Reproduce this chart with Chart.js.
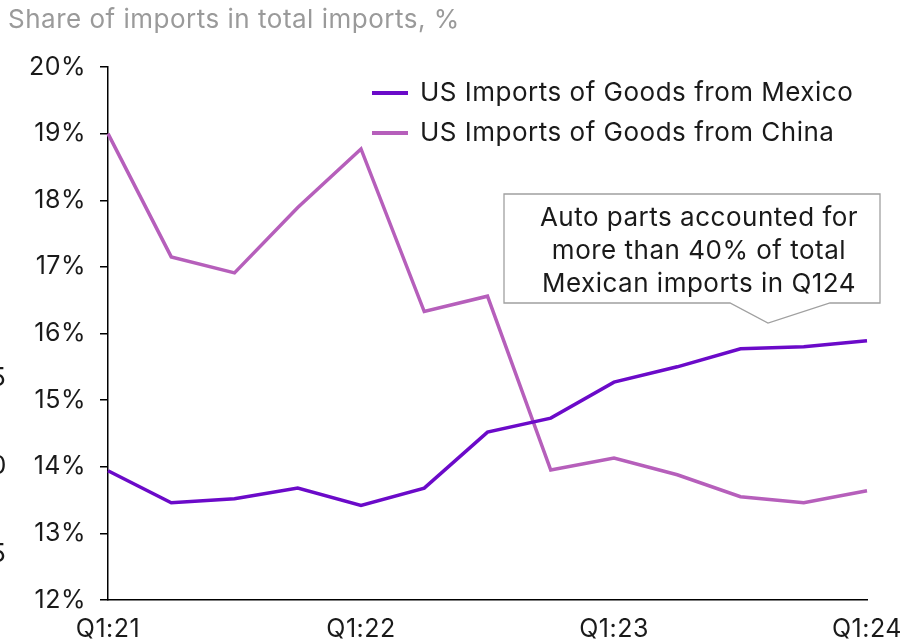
<!DOCTYPE html>
<html>
<head>
<meta charset="utf-8">
<script src="https://cdn.jsdelivr.net/npm/chart.js@4.4.1/dist/chart.umd.min.js"></script>
<style>
    html, body { margin: 0; padding: 0; background: #fff; }
    #wrap { width: 907px; height: 639px; position: relative; }
</style>
</head>
<body>
<div id="wrap"><canvas id="importsChart" width="907" height="639"></canvas></div>
<script>
// Quarters Q1:21 .. Q1:24
const QUARTERS = ['Q1:21', 'Q2:21', 'Q3:21', 'Q4:21', 'Q1:22', 'Q2:22', 'Q3:22', 'Q4:22',
                  'Q1:23', 'Q2:23', 'Q3:23', 'Q4:23', 'Q1:24'];
const MEXICO = [13.94, 13.46, 13.52, 13.68, 13.42, 13.68, 14.52, 14.73, 15.27, 15.50, 15.77, 15.80, 15.89];
const CHINA = [19.00, 17.15, 16.91, 17.89, 18.77, 16.33, 16.56, 13.95, 14.13, 13.88, 13.55, 13.46, 13.64];
const SERIES_NAMES = ['US Imports of Goods from Mexico', 'US Imports of Goods from China'];
const NOTE_LINES = ['Auto parts accounted for', 'more than 40% of total', 'Mexican imports in Q124'];

const COLORS = {
    mexico: '#6B0AC9',
    china: '#B65FBB',
    text: '#1a1a1a',
    title: '#9a9a9a',
    box: '#a0a0a0'
};
const FONT = 'Inter, Roboto, sans-serif';

// the original font runs a bit wider than Inter
const spacing = {
    id: 'spacing',
    beforeDraw(chart) {
        chart.ctx.letterSpacing = '0.5px';
    }
};

// title, legend, callout box and the clipped numbers of the neighbouring chart
const decorations = {
    id: 'decorations',
    afterDraw(chart) {
        const ctx = chart.ctx;
        ctx.save();
        ctx.letterSpacing = '0.5px';

        ctx.fillStyle = COLORS.title;
        ctx.font = '26px ' + FONT;
        ctx.textBaseline = 'middle';
        ctx.textAlign = 'left';
        ctx.fillText('Share of imports in total imports, %', 8, 20);

        // cut-off labels at the left edge
        ctx.fillStyle = COLORS.text;
        ['5', '0', '5'].forEach((t, i) => ctx.fillText(t, -10, 378 + i * 88));

        // legend
        const legendY = [93, 133];
        [COLORS.mexico, COLORS.china].forEach((c, i) => {
            ctx.strokeStyle = c;
            ctx.lineWidth = 4;
            ctx.beginPath();
            ctx.moveTo(372, legendY[i]);
            ctx.lineTo(408, legendY[i]);
            ctx.stroke();
            ctx.fillStyle = COLORS.text;
            ctx.fillText(SERIES_NAMES[i], 420, legendY[i]);
        });

        // callout
        ctx.strokeStyle = COLORS.box;
        ctx.lineWidth = 1.3;
        ctx.fillStyle = '#fff';
        ctx.beginPath();
        ctx.moveTo(504, 194);
        ctx.lineTo(880, 194);
        ctx.lineTo(880, 303);
        ctx.lineTo(830, 303);
        ctx.lineTo(768, 323);
        ctx.lineTo(730, 303);
        ctx.lineTo(504, 303);
        ctx.closePath();
        ctx.fill();
        ctx.stroke();

        ctx.fillStyle = COLORS.text;
        ctx.textAlign = 'center';
        NOTE_LINES.forEach((l, i) => ctx.fillText(l, 699, 218 + i * 33));

        ctx.restore();
    }
};

new Chart(document.getElementById('importsChart').getContext('2d'), {
    type: 'line',
    data: {
        labels: QUARTERS,
        datasets: [{
            label: SERIES_NAMES[0],
            data: MEXICO,
            borderColor: COLORS.mexico,
            borderWidth: 3.5,
            pointRadius: 0,
            tension: 0
        }, {
            label: SERIES_NAMES[1],
            data: CHINA,
            borderColor: COLORS.china,
            borderWidth: 3.5,
            pointRadius: 0,
            tension: 0
        }]
    },
    options: {
        responsive: false,
        animation: false,
        layout: {
            padding: { top: 67, left: 0, right: 40, bottom: 0 }
        },
        plugins: {
            legend: { display: false },
            tooltip: { enabled: false }
        },
        scales: {
            x: {
                offset: false,
                afterFit: scale => {
                    scale.height = 39;
                    scale.paddingLeft = 0;
                    scale.paddingRight = 0;
                },
                grid: { display: true, drawOnChartArea: false, drawTicks: false },
                border: { display: true, color: '#000', width: 1.5 },
                ticks: {
                    autoSkip: false,
                    maxRotation: 0,
                    padding: 14,
                    color: COLORS.text,
                    font: { family: FONT, size: 25 },
                    callback: function(val, i) {
                        return i % 4 === 0 ? QUARTERS[i] : '';
                    }
                }
            },
            y: {
                min: 12,
                max: 20,
                afterFit: scale => {
                    scale.width = 108;
                    scale.paddingTop = 0;
                    scale.paddingBottom = 0;
                },
                grid: { display: true, drawOnChartArea: false, drawTicks: true, tickLength: 8, color: '#000', lineWidth: 1.5 },
                border: { display: true, color: '#000', width: 1.5 },
                ticks: {
                    stepSize: 1,
                    padding: 14,
                    color: COLORS.text,
                    font: { family: FONT, size: 25 },
                    callback: v => v + '%'
                }
            }
        }
    },
    plugins: [spacing, decorations]
});
</script>
</body>
</html>
